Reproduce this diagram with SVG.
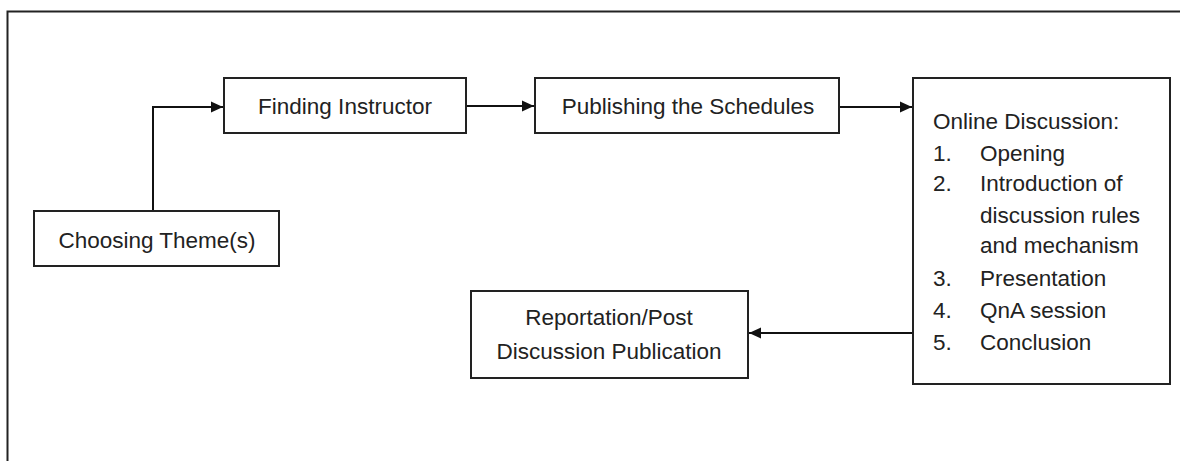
<svg xmlns="http://www.w3.org/2000/svg" width="1180" height="461" viewBox="0 0 1180 461">
<style>
.box{fill:#fff;stroke:#222;stroke-width:2}
.t{font-family:"Liberation Sans",Arial,sans-serif;font-size:22.5px;fill:#222}
.c{text-anchor:middle}
.ln{fill:none;stroke:#111;stroke-width:2}
</style>
<defs>
<marker id="ah" markerWidth="12" markerHeight="12" refX="12" refY="6" orient="auto" markerUnits="userSpaceOnUse" viewBox="0 0 12 12">
<path d="M0,0.5 L12,6 L0,11.5 z" fill="#111"/>
</marker>
</defs>
<rect x="0" y="0" width="1180" height="461" fill="#fff"/>
<path d="M7.5,470 V11.5 H1190" fill="none" stroke="#222" stroke-width="2"/>
<g id="connectors">
<path class="ln" d="M153,211 V107 H223" marker-end="url(#ah)"/>
<path class="ln" d="M466,106 H534" marker-end="url(#ah)"/>
<path class="ln" d="M839,107 H912" marker-end="url(#ah)"/>
<path class="ln" d="M913,333 H749" marker-end="url(#ah)"/>
</g>
<g id="choosing">
<rect class="box" x="34" y="211" width="245" height="55"/>
<text class="t c" x="157" y="248">Choosing Theme(s)</text>
</g>
<g id="finding">
<rect class="box" x="224" y="78" width="242" height="55"/>
<text class="t c" x="345" y="114">Finding Instructor</text>
</g>
<g id="publishing">
<rect class="box" x="535" y="78" width="304" height="55"/>
<text class="t c" x="688" y="114">Publishing the Schedules</text>
</g>
<g id="online">
<rect class="box" x="913" y="78" width="257" height="306"/>
<text class="t" x="933" y="129">Online Discussion:</text>
<text class="t" x="933" y="161">1.</text><text class="t" x="980" y="161">Opening</text>
<text class="t" x="933" y="191">2.</text><text class="t" x="980" y="191">Introduction of</text>
<text class="t" x="980" y="223">discussion rules</text>
<text class="t" x="980" y="253">and mechanism</text>
<text class="t" x="933" y="286">3.</text><text class="t" x="980" y="286">Presentation</text>
<text class="t" x="933" y="318">4.</text><text class="t" x="980" y="318">QnA session</text>
<text class="t" x="933" y="350">5.</text><text class="t" x="980" y="350">Conclusion</text>
</g>
<g id="reportation">
<rect class="box" x="471" y="291" width="277" height="87"/>
<text class="t c" x="609" y="325">Reportation/Post</text>
<text class="t c" x="609" y="359">Discussion Publication</text>
</g>
</svg>
